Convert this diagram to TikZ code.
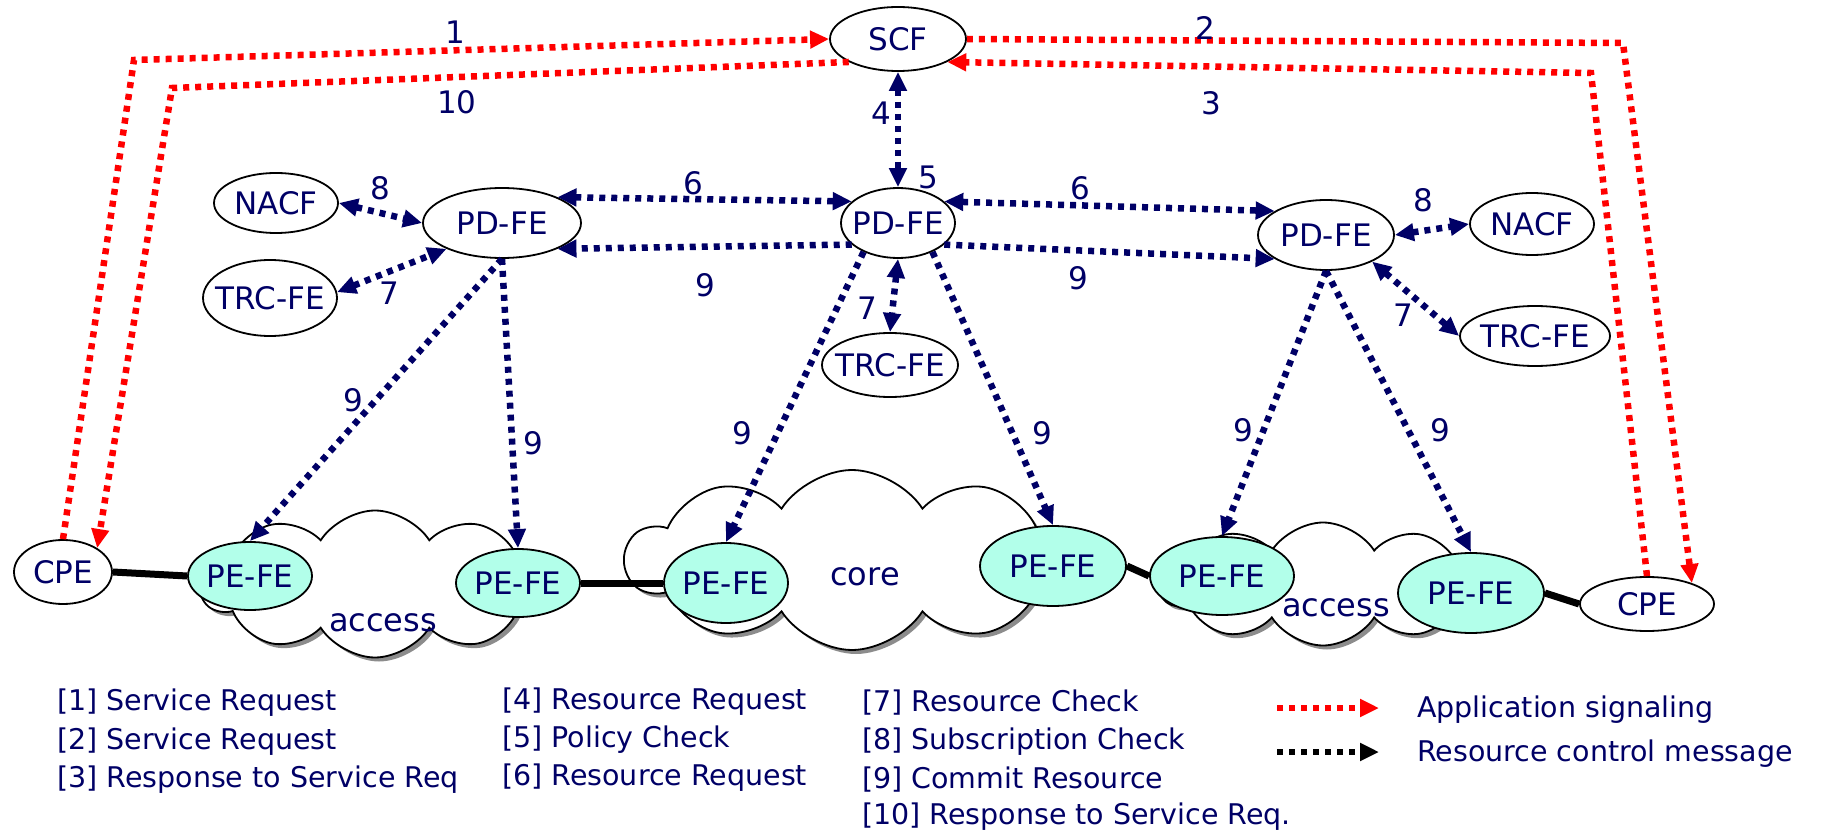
\documentclass[tikz,border=0pt]{standalone}
\usepackage{fontspec}
\setmainfont{DejaVu Sans}
\usetikzlibrary{arrows.meta,shapes.geometric,shapes.symbols,shadows}
\definecolor{navy}{RGB}{0,0,102}
\definecolor{peaqua}{RGB}{178,255,234}
\newcommand{\nt}[1]{\makebox[0pt]{#1}}

\begin{document}
\begin{tikzpicture}[x=1pt, y=-1pt, line cap=butt,
    >={Triangle[length=19pt,width=17pt]},
    ent/.style={ellipse, draw=black, line width=1.8pt, fill=white, inner sep=0pt,
      text=navy, font=\fontsize{31}{31}\selectfont},
    pe/.style={ent, fill=peaqua},
    net/.style={cloud, cloud puffs=10, cloud puff arc=115, cloud ignores aspect,
      draw=black, line width=1.8pt, fill=white, inner sep=0pt,
      drop shadow={shadow xshift=4pt, shadow yshift=-4pt, fill=black!45, opacity=1}},
    num/.style={text=navy, font=\fontsize{31}{31}\selectfont, inner sep=0pt},
    leg/.style={text=navy, font=\fontsize{28.5}{28.5}\selectfont, anchor=west, inner sep=0pt},
    app/.style={red, line width=6.5pt, dash pattern=on 6pt off 6pt},
    rc/.style={navy, line width=6.5pt, dash pattern=on 6pt off 6pt},
    link/.style={line width=7pt}]
  \useasboundingbox (0,0) rectangle (1821,834);
  % nubes
  \node[net, minimum width=350, minimum height=147] (accL) at (375,584) {};
  \node[net, minimum width=452, minimum height=180] (core) at (852,560) {};
  \node[net, minimum width=327, minimum height=123] (accR) at (1323,584) {};
  \node[num, font=\fontsize{32}{32}\selectfont] (taccL) at (383,623) {access};
  \node[num, font=\fontsize{32}{32}\selectfont] (tcore) at (865,577) {core};
  \node[num, font=\fontsize{32}{32}\selectfont] (taccR) at (1336,608) {access};
  % control
  \node[ent, minimum width=136, minimum height=64] (scf) at (898,39) {\nt{SCF}};
  \node[ent, minimum width=158, minimum height=70] (pdL) at (502,223) {\nt{PD-FE}};
  \node[ent, minimum width=114, minimum height=70] (pdC) at (898,223) {\nt{PD-FE}};
  \node[ent, minimum width=136, minimum height=70] (pdR) at (1326,235) {\nt{PD-FE}};
  \node[ent, minimum width=124, minimum height=60] (nacfL) at (276,203) {\nt{NACF}};
  \node[ent, minimum width=124, minimum height=62] (nacfR) at (1532,224) {\nt{NACF}};
  \node[ent, minimum width=134, minimum height=76] (trcL) at (270,298) {\nt{TRC-FE}};
  \node[ent, minimum width=136, minimum height=64] (trcC) at (890,365) {\nt{TRC-FE}};
  \node[ent, minimum width=150, minimum height=60] (trcR) at (1535,336) {\nt{TRC-FE}};
  % transporte
  \node[ent, minimum width=98, minimum height=64] (cpeL) at (63,572) {\nt{CPE}};
  \node[ent, minimum width=134, minimum height=54] (cpeR) at (1647,604) {\nt{CPE}};
  \node[pe, minimum width=124, minimum height=68] (peL1) at (250,576) {\nt{PE-FE}};
  \node[pe, minimum width=124, minimum height=68] (peL2) at (518,583) {\nt{PE-FE}};
  \node[pe, minimum width=124, minimum height=80] (peC1) at (726,583) {\nt{PE-FE}};
  \node[pe, minimum width=146, minimum height=80] (peC2) at (1053,566) {\nt{PE-FE}};
  \node[pe, minimum width=144, minimum height=78] (peR1) at (1222,576) {\nt{PE-FE}};
  \node[pe, minimum width=146, minimum height=80] (peR2) at (1471,593) {\nt{PE-FE}};
  \draw[link] (cpeL.east) -- (peL1.west);
  \draw[link] (peL2.east) -- (peC1.west);
  \draw[link] (peC2.east) -- (peR1.west);
  \draw[link] (peR2.east) -- (cpeR.west);
  % senalizacion
  \coordinate (c1) at (134,60);
  \coordinate (c10) at (172,88);
  \coordinate (c2) at (1623,43);
  \coordinate (c3) at (1591,73);
  \draw[app, ->] (cpeL.north) -- (c1) -- (scf.west);
  \draw[app, ->] (scf.205) -- (c10) -- (cpeL.35);
  \draw[app, ->] (scf.east) -- (c2) -- (cpeR.25);
  \draw[app, ->] (cpeR.north) -- (c3) -- (scf.-25);
  % mensajes de recursos
  \draw[rc, <->] (scf.south) -- (pdC.north);
  \draw[rc, <->] (pdL.25) -- (pdC.155);
  \draw[rc, ->] (pdC.205) -- (pdL.-25);
  \draw[rc, <->] (pdC.25) -- (pdR.155);
  \draw[rc, ->] (pdC.-25) -- (pdR.-155);
  \draw[rc, <->] (nacfL.east) -- (pdL.west);
  \draw[rc, <->] (trcL.5) -- (pdL.205);
  \draw[rc, <->] (pdC.south) -- (trcC.north);
  \draw[rc, <->] (pdR.east) -- (nacfR.west);
  \draw[rc, <->] (pdR.-30) -- (trcR.west);
  \draw[rc, ->] (pdL.south) -- (peL1.north);
  \draw[rc, ->] (pdL.south) -- (peL2.north);
  \draw[rc, ->] (pdC.-140) -- (peC1.north);
  \draw[rc, ->] (pdC.-40) -- (peC2.north);
  \draw[rc, ->] (pdR.south) -- (peR1.north);
  \draw[rc, ->] (pdR.south) -- (peR2.north);
  % numeros
  \node[num] (n1) at (455,32) {1};
  \node[num] (n10) at (457,102) {10};
  \node[num] (n2) at (1205,28) {2};
  \node[num] (n3) at (1211,103) {3};
  \node[num] (n4) at (881,113) {4};
  \node[num] (n5) at (928,177) {5};
  \node[num] (n6a) at (693,183) {6};
  \node[num] (n6b) at (1080,188) {6};
  \node[num] (n7a) at (389,293) {7};
  \node[num] (n7b) at (867,308) {7};
  \node[num] (n7c) at (1403,315) {7};
  \node[num] (n8a) at (380,188) {8};
  \node[num] (n8b) at (1423,200) {8};
  \node[num] (n9a) at (705,285) {9};
  \node[num] (n9b) at (1078,278) {9};
  \node[num] (n9c) at (353,400) {9};
  \node[num] (n9d) at (533,443) {9};
  \node[num] (n9e) at (742,433) {9};
  \node[num] (n9f) at (1042,433) {9};
  \node[num] (n9g) at (1243,430) {9};
  \node[num] (n9h) at (1440,430) {9};
  % leyenda
  \node[leg] (k1) at (57,703) {[1] Service Request};
  \node[leg] (k2) at (57,742) {[2] Service Request};
  \node[leg] (k3) at (57,780) {[3] Response to Service Req};
  \node[leg] (k4) at (502,702) {[4] Resource Request};
  \node[leg] (k5) at (502,740) {[5] Policy Check};
  \node[leg] (k6) at (502,778) {[6] Resource Request};
  \node[leg] (k7) at (862,703) {[7] Resource Check};
  \node[leg] (k8) at (862,742) {[8] Subscription Check};
  \node[leg] (k9) at (862,780) {[9] Commit Resource};
  \node[leg] (k10) at (862,817) {[10] Response to Service Req.};
  \coordinate (ka1) at (1277,708);
  \coordinate (ka2) at (1379,708);
  \coordinate (kb1) at (1277,752);
  \coordinate (kb2) at (1379,752);
  \draw[app, ->] (ka1) -- (ka2);
  \draw[rc, black, ->] (kb1) -- (kb2);
  \node[leg] (kt1) at (1417,710) {Application signaling};
  \node[leg] (kt2) at (1417,754) {Resource control message};
\end{tikzpicture}
\end{document}
